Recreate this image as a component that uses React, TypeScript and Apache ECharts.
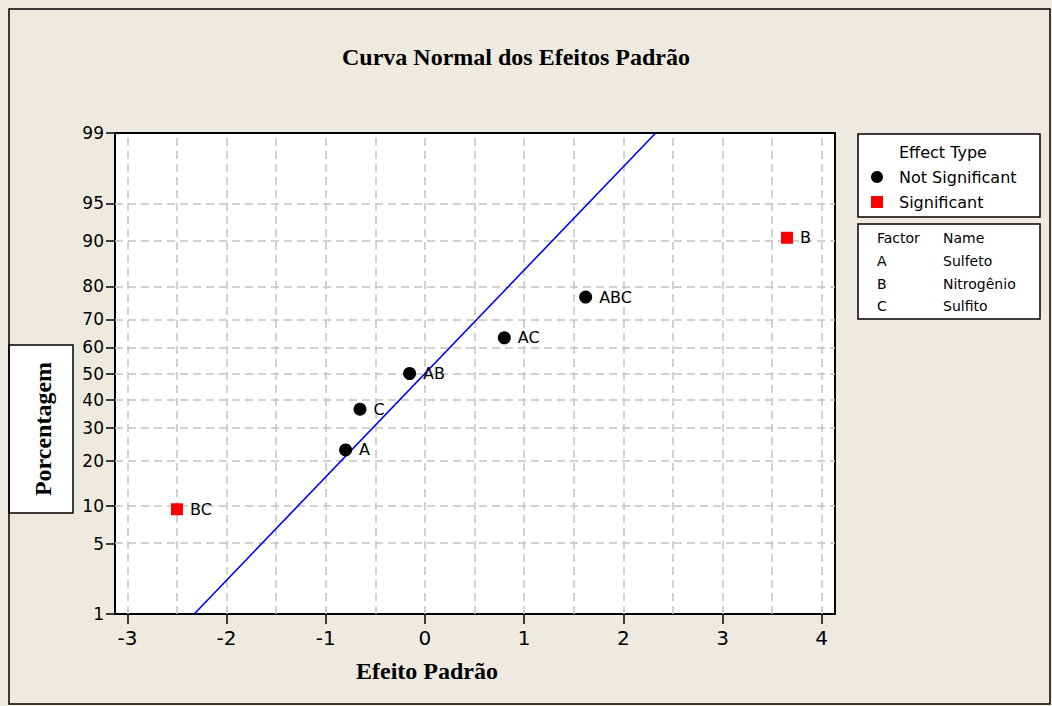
import React, { useEffect, useRef } from "react";
import * as echarts from "echarts";

// ---- data ----
const effectNames = ["BC", "A", "C", "AB", "AC", "ABC", "B"];
const effectValues = [-2.5, -0.8, -0.655, -0.155, 0.8, 1.62, 3.65];
const effectPercents = [9.46, 22.97, 36.49, 50.0, 63.51, 77.03, 90.54];
const effectSignificant = [true, false, false, false, false, false, true];

const fitLinePercents = [1, 99];

const yTickPercents = [1, 5, 10, 20, 30, 40, 50, 60, 70, 80, 90, 95, 99];
const xTickValues = [-3, -2, -1, 0, 1, 2, 3, 4];
const xGridValues = [-3, -2.5, -2, -1.5, -1, -0.5, 0, 0.5, 1, 1.5, 2, 2.5, 3, 3.5, 4];

const factorRows = [
  ["A", "Sulfeto"],
  ["B", "Nitrogênio"],
  ["C", "Sulfito"],
];

// inverse standard normal CDF (Acklam)
function normInv(p: number): number {
  const a = [-3.969683028665376e1, 2.209460984245205e2, -2.759285104469687e2, 1.38357751867269e2, -3.066479806614716e1, 2.506628277459239];
  const b = [-5.447609879822406e1, 1.615858368580409e2, -1.556989798598866e2, 6.680131188771972e1, -1.328068155288572e1];
  const c = [-7.784894002430293e-3, -3.223964580411365e-1, -2.400758277161838, -2.549732539343734, 4.374664141464968, 2.938163982698783];
  const d = [7.784695709041462e-3, 3.224671290700398e-1, 2.445134137142996, 3.754408661907416];
  const pl = 0.02425;
  let q: number, r: number;
  if (p < pl) {
    q = Math.sqrt(-2 * Math.log(p));
    return (((((c[0] * q + c[1]) * q + c[2]) * q + c[3]) * q + c[4]) * q + c[5]) / ((((d[0] * q + d[1]) * q + d[2]) * q + d[3]) * q + 1);
  }
  if (p <= 1 - pl) {
    q = p - 0.5;
    r = q * q;
    return ((((((a[0] * r + a[1]) * r + a[2]) * r + a[3]) * r + a[4]) * r + a[5]) * q) / (((((b[0] * r + b[1]) * r + b[2]) * r + b[3]) * r + b[4]) * r + 1);
  }
  q = Math.sqrt(-2 * Math.log(1 - p));
  return -(((((c[0] * q + c[1]) * q + c[2]) * q + c[3]) * q + c[4]) * q + c[5]) / ((((d[0] * q + d[1]) * q + d[2]) * q + d[3]) * q + 1);
}

const SANS = "DejaVu Sans";
const SERIF = "Liberation Serif";

export default function App() {
  const ref = useRef<HTMLDivElement>(null);

  useEffect(() => {
    if (!ref.current) return;
    const chart = echarts.init(ref.current, undefined, { renderer: "svg" });

    const yTickZ = yTickPercents.map((p) => normInv(p / 100));
    const yMin = normInv(0.01);
    const yMax = normInv(0.99);

    const pts = effectNames.map((n, i) => ({
      name: n,
      value: [effectValues[i], normInv(effectPercents[i] / 100)],
      sig: effectSignificant[i],
    }));
    const notSig = pts.filter((p) => !p.sig).map((p) => ({ name: p.name, value: p.value }));
    const sig = pts.filter((p) => p.sig).map((p) => ({ name: p.name, value: p.value }));

    const fitLine = fitLinePercents.map((p) => {
      const z = normInv(p / 100);
      return [z, z];
    });

    const gridLineStyle = { color: "#c4c4c4", type: [8, 5] as any, width: 1.5 };
    const markData: any[] = [
      ...xGridValues.map((v) => ({ xAxis: v })),
      ...yTickZ.slice(1, -1).map((v) => ({ yAxis: v })),
    ];

    const labelStyle = {
      show: true,
      position: "right" as const,
      distance: 7,
      formatter: "{b}",
      color: "#000",
      opacity: 1,
      fontSize: 16,
      fontFamily: SANS,
    };

    const legendGraphics: any[] = [
      {
        type: "rect",
        shape: { x: 858, y: 134, width: 182, height: 83 },
        style: { fill: "#fff", stroke: "#000", lineWidth: 1.5 },
      },
      {
        type: "text",
        style: { x: 899, y: 152, text: "Effect Type", fontSize: 16, fontFamily: SANS, fill: "#000", textVerticalAlign: "middle" },
      },
      { type: "circle", shape: { cx: 877, cy: 177, r: 6 }, style: { fill: "#000" } },
      {
        type: "text",
        style: { x: 899, y: 177, text: "Not Significant", fontSize: 16, fontFamily: SANS, fill: "#000", textVerticalAlign: "middle" },
      },
      { type: "rect", shape: { x: 871, y: 196, width: 12, height: 12 }, style: { fill: "#ff0000" } },
      {
        type: "text",
        style: { x: 899, y: 202, text: "Significant", fontSize: 16, fontFamily: SANS, fill: "#000", textVerticalAlign: "middle" },
      },
      {
        type: "rect",
        shape: { x: 858, y: 224, width: 182, height: 95 },
        style: { fill: "#fff", stroke: "#000", lineWidth: 1.5 },
      },
      {
        type: "text",
        style: { x: 877, y: 238, text: "Factor", fontSize: 14, fontFamily: SANS, fill: "#000", textVerticalAlign: "middle" },
      },
      {
        type: "text",
        style: { x: 943, y: 238, text: "Name", fontSize: 14, fontFamily: SANS, fill: "#000", textVerticalAlign: "middle" },
      },
      ...factorRows.flatMap((row, i) => [
        {
          type: "text",
          style: { x: 877, y: 261 + i * 22.7, text: row[0], fontSize: 14, fontFamily: SANS, fill: "#000", textVerticalAlign: "middle" },
        },
        {
          type: "text",
          style: { x: 943, y: 261 + i * 22.7, text: row[1], fontSize: 14, fontFamily: SANS, fill: "#000", textVerticalAlign: "middle" },
        },
      ]),
    ];

    chart.setOption({
      animation: false,
      backgroundColor: "#EEEAE0",
      textStyle: { fontFamily: SANS },
      grid: {
        left: 115,
        top: 133,
        right: 1052 - 835,
        bottom: 706 - 614,
        show: true,
        backgroundColor: "#fff",
        borderColor: "#000",
        borderWidth: 2,
      },
      xAxis: {
        type: "value",
        min: -3.125,
        max: 4.134,
        axisLine: { show: true, onZero: false, lineStyle: { color: "#000", width: 2 } },
        axisTick: { show: true, customValues: xTickValues, length: 10, lineStyle: { color: "#000", width: 1.5 } },
        axisLabel: {
          customValues: xTickValues,
          color: "#000",
          fontSize: 20,
          fontFamily: SANS,
          margin: 14,
          formatter: (v: number) => String(Math.round(v)),
        },
        splitLine: { show: false },
      },
      yAxis: {
        type: "value",
        min: yMin,
        max: yMax,
        axisLine: { show: true, onZero: false, lineStyle: { color: "#000", width: 2 } },
        axisTick: { show: true, customValues: yTickZ, length: 9, lineStyle: { color: "#000", width: 1.5 } },
        axisLabel: {
          customValues: yTickZ,
          color: "#000",
          fontSize: 17,
          fontFamily: SANS,
          margin: 11,
          formatter: (v: number) => {
            let best = 0;
            for (let i = 0; i < yTickZ.length; i++) {
              if (Math.abs(yTickZ[i] - v) < Math.abs(yTickZ[best] - v)) best = i;
            }
            return String(yTickPercents[best]);
          },
        },
        splitLine: { show: false },
      },
      graphic: [
        {
          type: "rect",
          z: 100,
          shape: { x: 9, y: 9, width: 1041, height: 695 },
          style: { fill: "none", stroke: "#000", lineWidth: 1.5 },
        },
        {
          type: "text",
          style: {
            x: 516,
            y: 57,
            text: "Curva Normal dos Efeitos Padrão",
            fontSize: 24,
            fontWeight: "bold",
            fontFamily: SERIF,
            fill: "#000",
            textAlign: "center",
            textVerticalAlign: "middle",
          },
        },
        {
          type: "text",
          style: {
            x: 427,
            y: 671,
            text: "Efeito Padrão",
            fontSize: 24,
            fontWeight: "bold",
            fontFamily: SERIF,
            fill: "#000",
            textAlign: "center",
            textVerticalAlign: "middle",
          },
        },
        {
          type: "rect",
          shape: { x: 9, y: 345, width: 64, height: 168 },
          style: { fill: "#fff", stroke: "#000", lineWidth: 1.5 },
        },
        {
          type: "text",
          x: 43,
          y: 429,
          rotation: Math.PI / 2,
          style: {
            x: 0,
            y: 0,
            text: "Porcentagem",
            fontSize: 24,
            fontWeight: "bold",
            fontFamily: SERIF,
            fill: "#000",
            textAlign: "center",
            textVerticalAlign: "middle",
          },
        },
        ...legendGraphics,
      ],
      series: [
        {
          type: "line",
          name: "grid",
          data: [],
          silent: true,
          z: 1,
          markLine: {
            silent: true,
            z: 1,
            symbol: ["none", "none"],
            label: { show: false },
            lineStyle: gridLineStyle,
            emphasis: { disabled: true },
            data: markData,
          },
        },
        {
          type: "line",
          name: "fit",
          data: fitLine,
          showSymbol: false,
          symbol: "none",
          lineStyle: { color: "#0000ff", width: 1.6 },
          z: 3,
        },
        {
          type: "scatter",
          name: "Not Significant",
          data: notSig,
          symbol: "circle",
          symbolSize: 13,
          itemStyle: { color: "#000", opacity: 1 },
          label: labelStyle,
          z: 4,
        },
        {
          type: "scatter",
          name: "Significant",
          data: sig,
          symbol: "rect",
          symbolSize: 12,
          itemStyle: { color: "#ff0000", opacity: 1 },
          label: labelStyle,
          z: 4,
        },
      ],
    });

    return () => chart.dispose();
  }, []);

  return (
    <div
      ref={ref}
      style={{ position: "fixed", left: 0, top: 0, width: 1052, height: 706 }}
    />
  );
}
